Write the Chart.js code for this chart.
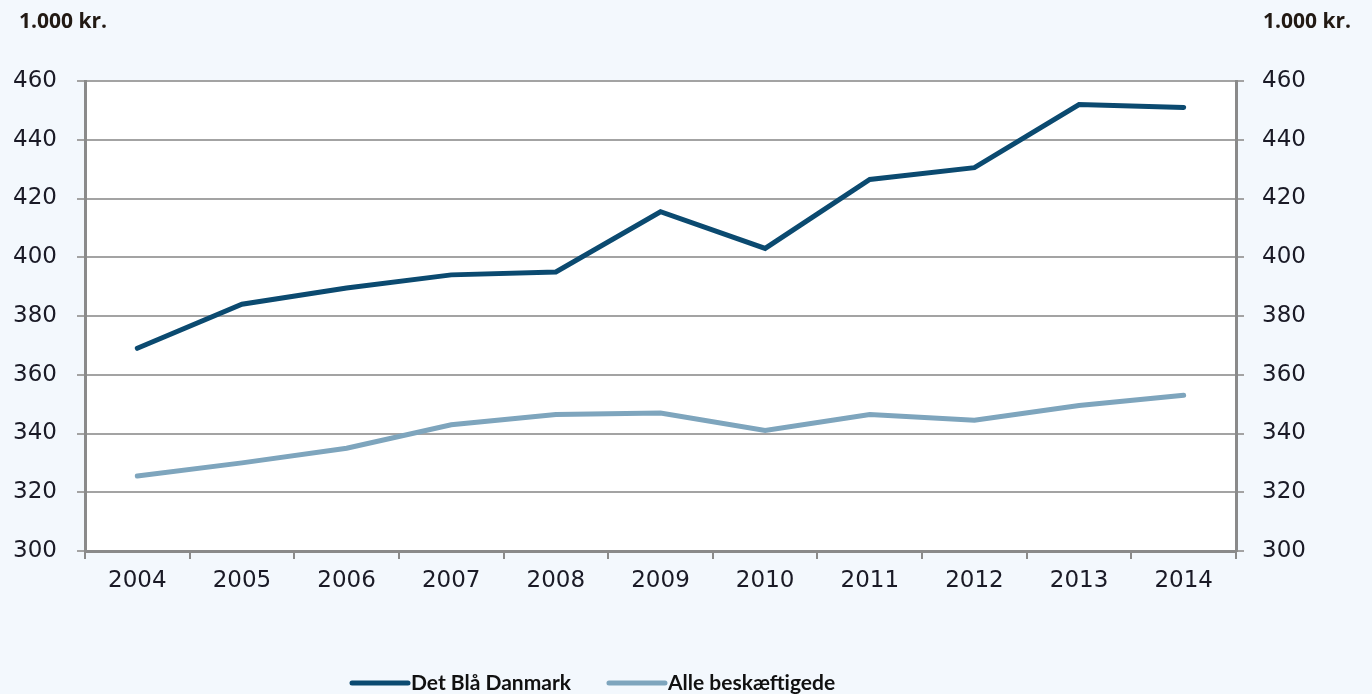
<!DOCTYPE html>
<html>
<head>
<meta charset="utf-8">
<script src="https://cdn.jsdelivr.net/npm/chart.js@4"></script>
<style>
  body { margin: 0; background: #f3f8fd; }
  canvas { display: block; }
</style>
</head>
<body>
<canvas id="lonChart" width="1372" height="694"></canvas>
<script>
const years = ['2004', '2005', '2006', '2007', '2008', '2009', '2010', '2011', '2012', '2013', '2014'];
const blaaDanmark = [369, 384, 389.5, 394, 395, 415.5, 403, 426.5, 430.5, 452, 451];
const alleBeskaeftigede = [325.5, 330, 335, 343, 346.5, 347, 341, 346.5, 344.5, 349.5, 353];
const yTicks = [300, 320, 340, 360, 380, 400, 420, 440, 460];
const unitLabel = '1.000 kr.';

const tickFont = { family: 'DejaVu Sans', size: 23 };
const tickColor = '#1a1a26';

// baggrund + hvid plotflade, titler og legende tegnes her
const decor = {
    id: 'decor',
    beforeDraw(chart) {
        const c = chart.ctx;
        const a = chart.chartArea;
        c.save();
        c.fillStyle = '#f3f8fd';
        c.fillRect(0, 0, chart.width, chart.height);
        c.fillStyle = '#ffffff';
        c.fillRect(a.left, a.top, a.right - a.left, a.bottom - a.top);
        c.restore();
    },
    afterDraw(chart) {
        const c = chart.ctx;
        c.save();
        c.fillStyle = '#221a14';
        c.font = 'bold 21px "Open Sans"';
        c.textBaseline = 'middle';
        c.textAlign = 'left';
        c.fillText(unitLabel, 19, 22);
        c.fillText(unitLabel, 1263, 22);

        // legende
        let x = 352;
        const y = 683;
        c.font = 'bold 21px Lato';
        chart.data.datasets.forEach(ds => {
            c.strokeStyle = ds.borderColor;
            c.lineWidth = 5;
            c.lineCap = 'round';
            c.beginPath();
            c.moveTo(x, y);
            c.lineTo(x + 56, y);
            c.stroke();
            c.fillStyle = '#111111';
            c.fillText(ds.label, x + 59, y);
            x += 59 + c.measureText(ds.label).width + 38;
        });
        c.restore();
    }
};

const ctx = document.getElementById('lonChart').getContext('2d');
const lonChart = new Chart(ctx, {
    type: 'line',
    data: {
        labels: years,
        datasets: [
            {
                label: 'Det Blå Danmark',
                data: blaaDanmark,
                borderColor: '#0b4a70',
                borderWidth: 5,
                borderCapStyle: 'round',
                pointRadius: 0,
                tension: 0,
                yAxisID: 'y'
            },
            {
                label: 'Alle beskæftigede',
                data: alleBeskaeftigede,
                borderColor: '#7ea5bd',
                borderWidth: 5,
                borderCapStyle: 'round',
                pointRadius: 0,
                tension: 0,
                yAxisID: 'y'
            }
        ]
    },
    options: {
        responsive: false,
        animation: false,
        layout: {
            padding: { top: 81, left: 0, right: 0, bottom: 0 }
        },
        scales: {
            x: {
                offset: true,
                grid: {
                    offset: true,
                    drawOnChartArea: false,
                    color: '#8a8a8a',
                    lineWidth: 2,
                    tickLength: 8
                },
                border: { color: '#8a8a8a', width: 3 },
                ticks: { font: tickFont, color: tickColor, padding: 8, maxRotation: 0 },
                afterFit(scale) { scale.height = 143; }
            },
            y: {
                position: 'left',
                min: 300,
                max: 460,
                afterBuildTicks(scale) { scale.ticks = yTicks.map(v => ({ value: v })); },
                grid: { color: '#a3a3a3', lineWidth: 2, tickLength: 8 },
                border: { color: '#8a8a8a', width: 3 },
                ticks: { font: tickFont, color: tickColor, padding: 20 },
                afterFit(scale) { scale.width = 85; }
            },
            y2: {
                position: 'right',
                min: 300,
                max: 460,
                afterBuildTicks(scale) { scale.ticks = yTicks.map(v => ({ value: v })); },
                grid: { drawOnChartArea: false, color: '#a3a3a3', lineWidth: 2, tickLength: 8 },
                border: { color: '#8a8a8a', width: 3 },
                ticks: { font: tickFont, color: tickColor, padding: 18 },
                afterFit(scale) { scale.width = 136; }
            }
        },
        plugins: {
            legend: { display: false },
            tooltip: { enabled: false }
        }
    },
    plugins: [decor]
});
</script>
</body>
</html>
